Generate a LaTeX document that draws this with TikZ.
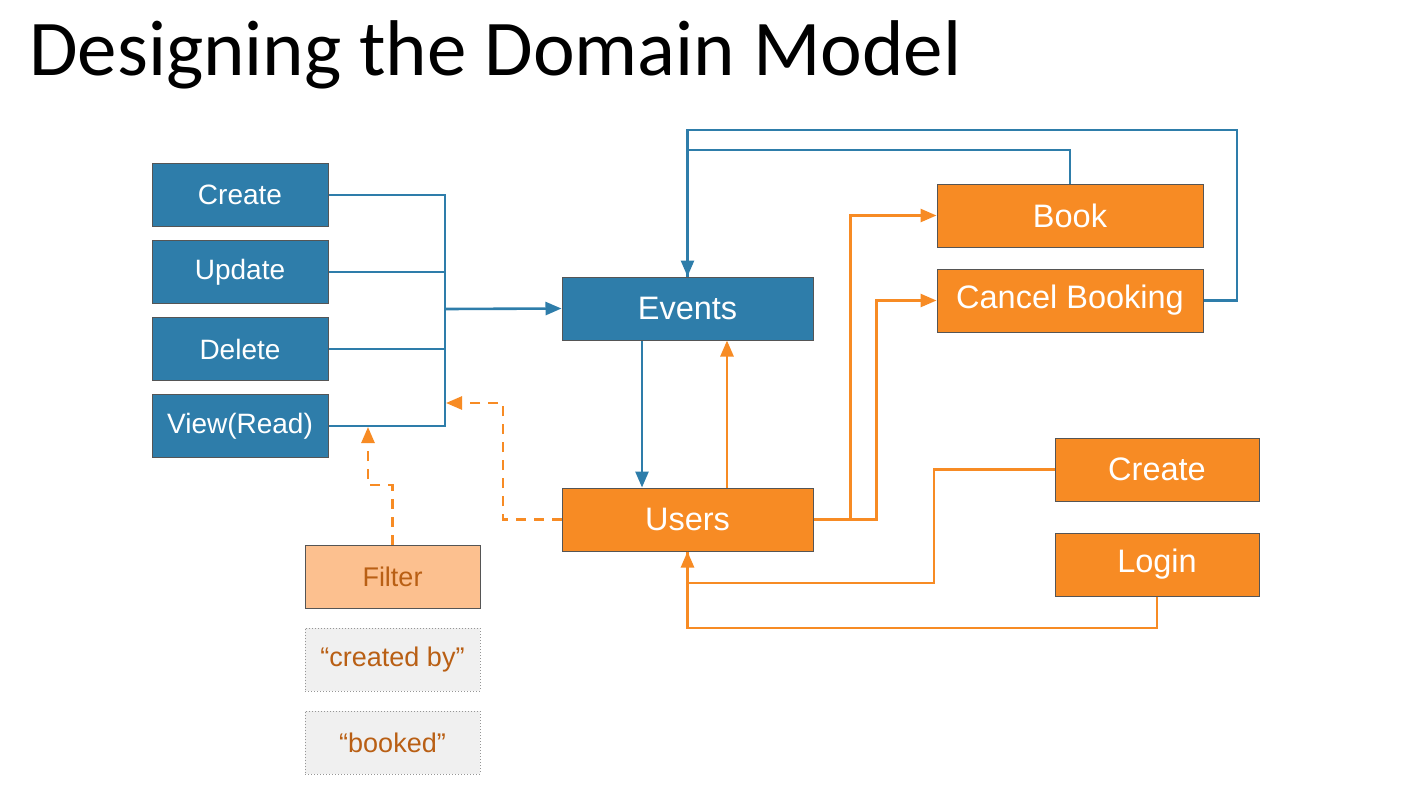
\documentclass[tikz,border=0pt]{standalone}
\usepackage{fontspec}
\setmainfont{Liberation Sans}
\newfontfamily\titlefont{Carlito}
\usepackage{xcolor}
\usetikzlibrary{arrows.meta, positioning, calc}

\definecolor{evblue}{RGB}{46,125,170}
\definecolor{usorange}{RGB}{247,139,36}
\definecolor{filterfill}{RGB}{252,192,143}
\definecolor{filtertext}{RGB}{185,95,20}
\definecolor{boxedge}{RGB}{85,85,85}
\definecolor{notefill}{RGB}{240,240,240}
\definecolor{noteedge}{RGB}{150,150,150}

\begin{document}
\begin{tikzpicture}[x=1pt, y=-1pt, node distance=13pt and 20pt, >={Triangle[length=16pt, width=13pt]}]
        % Styles
        \tikzset{
            opblock/.style={draw=boxedge, fill=evblue, text=white, rectangle, minimum width=176pt, minimum height=63pt, inner sep=0pt, line width=1pt, font=\fontsize{28}{32}\selectfont},
            eventblock/.style={draw=boxedge, fill=evblue, text=white, rectangle, minimum width=251pt, minimum height=63pt, inner sep=0pt, line width=1pt, font=\fontsize{32.5}{36}\selectfont},
            userblock/.style={eventblock, fill=usorange},
            actionblock/.style={userblock, minimum width=266pt},
            accountblock/.style={userblock, minimum width=204pt},
            filterblock/.style={opblock, fill=filterfill, text=filtertext, minimum width=175pt, font=\fontsize{27}{30}\selectfont},
            noteblock/.style={filterblock, draw=noteedge, fill=notefill, dotted, line width=1pt},
            blueline/.style={draw=evblue, line width=2.6pt},
            orangeline/.style={draw=usorange, line width=2.6pt},
            orangedash/.style={orangeline, dash pattern=on 10pt off 8pt}
        }

        \useasboundingbox (0,0) rectangle (1408,804);
        \fill[white] (0,0) rectangle (1408,804);

        % Title
        \node[anchor=base west, inner sep=0pt, font=\titlefont\fontsize{79}{86}\selectfont] (title) at (29,75) {Designing the Domain Model};

        % Event operations
        \node[opblock] (create) at (240,195) {Create};
        \node[opblock, below=13pt of create] (update) {Update};
        \node[opblock, below=13pt of update] (delete) {Delete};
        \node[opblock, below=13pt of delete] (view) {View(Read)};

        % Filter and its values
        \node[filterblock] (filter) at (392.5,576.5) {Filter};
        \node[noteblock, below=19pt of filter] (createdby) {``created by''};
        \node[noteblock, below=19pt of createdby] (booked) {``booked''};

        % Core entities
        \node[eventblock] (events) at (687.5,308.5) {Events};
        \node[userblock, below=147pt of events] (users) {Users};

        % User actions
        \node[actionblock] (book) at (1070,215.5) {Book};
        \node[actionblock, below=21pt of book] (cancel) {Cancel Booking};
        \node[accountblock] (signup) at (1157,469.5) {Create};
        \node[accountblock, below=31pt of signup] (login) {Login};

        % Helper coordinates
        \coordinate (bus) at (445,309);
        \coordinate (dashbend) at (503,403);
        \coordinate (filterbend) at (368,485);
        \coordinate (loopin) at (687.5,150);
        \coordinate (loopout) at (1237,130);
        \coordinate (retcreate) at (934,583);
        \coordinate (retlogin) at (687.5,628);

        % Arrows
        \draw[blueline] (create.east) -| (bus) |- (view.east);
        \draw[blueline] (update.east) -- (update.east -| bus);
        \draw[blueline] (delete.east) -- (delete.east -| bus);
        \draw[blueline, ->] (bus) -- (events.west);

        \draw[blueline, ->] ([xshift=-45.5pt]events.south) -- ([xshift=-45.5pt]users.north);
        \draw[orangeline, ->] ([xshift=39.5pt]users.north) -- ([xshift=39.5pt]events.south);

        \draw[orangedash, ->] (users.west) -| (dashbend) -- ([xshift=1pt]dashbend -| bus);
        \draw[orangedash, ->] (filter.north) |- (filterbend) -- ([yshift=-1pt]filterbend |- view.east);

        \draw[blueline] (cancel.east) -| (loopout) -| (events.north);
        \draw[blueline, ->] (book.north) |- (loopin) -- (events.north);

        \draw[orangeline, ->] (users.east) -- ++(37,0) |- (book.west);
        \draw[orangeline, ->] (users.east) -- ++(63,0) |- (cancel.west);

        \draw[orangeline] (signup.west) -| (retcreate) -| (users.south);
        \draw[orangeline, ->] (login.south) |- (retlogin) -- (users.south);
    \end{tikzpicture}
\end{document}
